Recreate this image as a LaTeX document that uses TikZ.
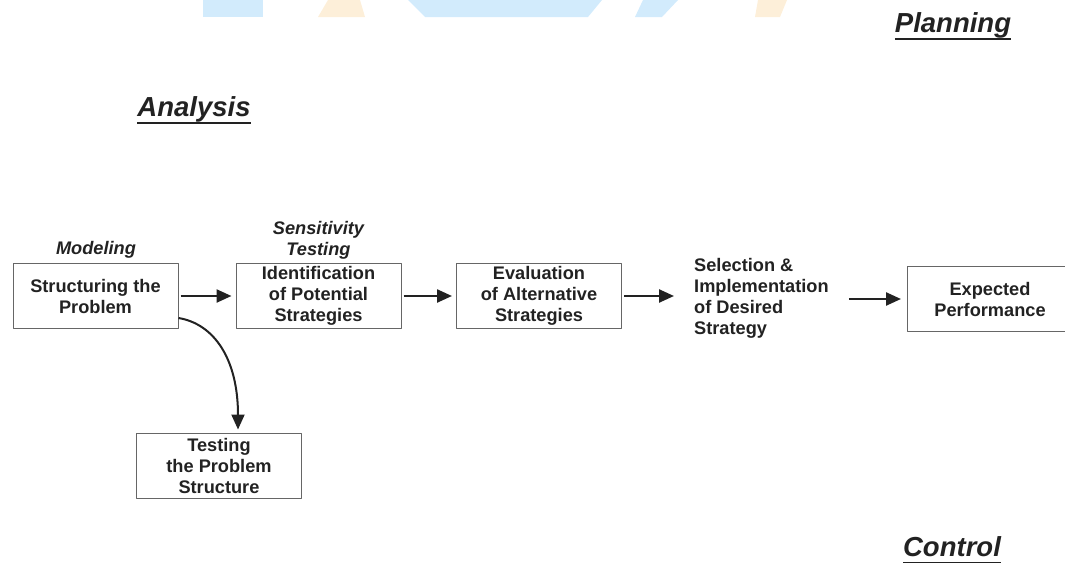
\documentclass[tikz,border=0pt]{standalone}
\usepackage{fontspec}
\setmainfont{Liberation Sans}
\usetikzlibrary{arrows.meta}
\definecolor{inkgray}{HTML}{222222}
\definecolor{framegray}{HTML}{666666}
\definecolor{markblue}{HTML}{D2EBFC}
\definecolor{markyellow}{HTML}{FDEFD9}
% underlined title word
\newcommand{\headrule}[1]{\setbox0\hbox{#1}\rlap{\raisebox{-8pt}{\rule{\wd0}{1.8pt}}}\box0}
\tikzset{
  stagebox/.style={draw=framegray, line width=1pt, minimum width=165pt, minimum height=65pt,
    inner sep=0pt, align=center, text=inkgray, font=\bfseries\fontsize{18.2}{21}\selectfont},
  plaintext/.style={inner sep=0pt, text=inkgray, font=\bfseries\fontsize{18.2}{21}\selectfont},
  tagtext/.style={inner sep=0pt, align=center, text=inkgray, font=\bfseries\itshape\fontsize{18.2}{21}\selectfont},
  headline/.style={inner sep=0pt, anchor=base, text=inkgray, font=\bfseries\itshape\fontsize{27.5}{32}\selectfont},
  flowarrow/.style={draw=inkgray, line width=2.4pt, -{Triangle[length=15pt,width=13pt]}}
}
\begin{document}
\begin{tikzpicture}[x=1pt, y=-1pt, line join=round]
  \useasboundingbox (0,0) rectangle (1065,562);
  % faint marks at the top edge
  \fill[markblue] (203,0) rectangle (263,17);
  \fill[markyellow] (328,0)--(360,0)--(365,17)--(318,17)--cycle;
  \fill[markblue] (408,0)--(602,0)--(588,17)--(425,17)--cycle;
  \fill[markblue] (643,0)--(678,0)--(662,17)--(635,17)--cycle;
  \fill[markyellow] (758,0)--(787,0)--(780,17)--(755,17)--cycle;
  % titles
  \node[headline] (planning) at (953,32) {\headrule{Planning}};
  \node[headline] (analysis) at (194,116) {\headrule{Analysis}};
  \node[headline] (control) at (952,556) {\headrule{Control}};
  % stages
  \node[stagebox] (struct) at (95.5,296) {Structuring the\\Problem};
  \node[stagebox] (ident) at (318.5,296) {Identification\\of Potential\\Strategies};
  \node[stagebox] (evalu) at (539,296) {Evaluation\\of Alternative\\Strategies};
  \node[plaintext, anchor=west, align=left] (select) at (694,298) {Selection \&\\Implementation\\of Desired\\Strategy};
  \node[stagebox] (expect) at (990,299) {Expected\\Performance};
  \node[stagebox] (test) at (219,465.5) {Testing\\the Problem\\Structure};
  % labels above the boxes
  \node[tagtext] (modeling) at (96,250) {Modeling};
  \node[tagtext] (sensit) at (318.5,240.5) {Sensitivity\\Testing};
  % connectors
  \draw[flowarrow, shorten <=2pt, shorten >=4pt] (struct.east) -- (ident.west);
  \draw[flowarrow, shorten <=2pt, shorten >=4pt] (ident.east) -- (evalu.west);
  \draw[flowarrow, shorten <=2pt, shorten >=20pt] (evalu.east) -- (evalu.east -| select.west);
  \draw[flowarrow, shorten <=20pt, shorten >=6pt] (select.east |- expect.west) -- (expect.west);
  \draw[flowarrow, line width=2pt] ([yshift=11pt]struct.south east) .. controls +(36,6) and +(0,-70) .. ([xshift=19pt,yshift=3pt]test.north);
\end{tikzpicture}
\end{document}
